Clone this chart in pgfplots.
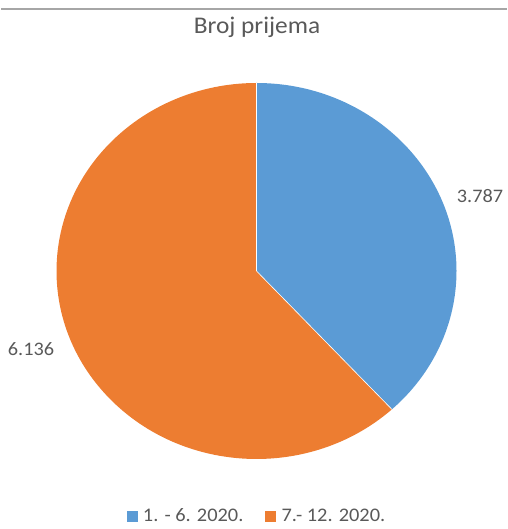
\documentclass[border=0pt]{standalone}
\usepackage{pgfplots}
\pgfplotsset{compat=1.18}
\usepackage{pgfplotstable}
\usepackage{fontspec}
\setmainfont{Carlito}[FakeStretch=1.06]
\definecolor{pieblue}{HTML}{5B9BD5}
\definecolor{pieorange}{HTML}{ED7D31}
\definecolor{txtgrey}{HTML}{595959}
\definecolor{framegrey}{HTML}{A6A6A6}

\pgfplotstableread{
label value
1 3787
2 6136
}\piedata

\begin{document}
\begin{tikzpicture}
\pgfplotstablegetelem{0}{value}\of\piedata \let\va\pgfplotsretval
\pgfplotstablegetelem{1}{value}\of\piedata \let\vb\pgfplotsretval
\pgfmathsetmacro{\angA}{90-360*(\va/(\va+\vb))}
\begin{axis}[
  hide axis, scale only axis,
  width=506bp, height=529bp,
  xmin=0, xmax=506, ymin=0, ymax=529,
  clip=false,
  legend columns=2,
  legend cell align=left,
  legend style={draw=none, fill=none, at={(axis cs:256,13)}, anchor=center,
    font=\fontsize{19.3}{21}\selectfont, text=txtgrey,
    /tikz/every even column/.append style={column sep=20bp}},
  legend image code/.code={\fill[#1] (0bp,-5.2bp) rectangle (10bp,5.2bp);
    \path[draw=none, fill=none] (0bp,0bp) -- (14bp,0bp);},
]
\path (axis cs:0,0) rectangle (axis cs:506,529);
\addlegendimage{pieblue}
\addlegendentry{1. - 6. 2020.}
\addlegendimage{pieorange}
\addlegendentry{7.- 12. 2020.}
\fill[pieblue] (axis cs:255.5,258) -- ++(0bp,188bp)
  arc[start angle=90, end angle=\angA, x radius=200bp, y radius=188bp] -- cycle;
\fill[pieorange] (axis cs:255.5,258) -- ++({200bp*cos(\angA)},{188bp*sin(\angA)})
  arc[start angle=\angA, end angle=-270, x radius=200bp, y radius=188bp] -- cycle;
\draw[white, line width=0.6bp] (axis cs:255.5,258) -- ++(0bp,188bp);
\draw[white, line width=0.6bp] (axis cs:255.5,258) -- ++({200bp*cos(\angA)},{188bp*sin(\angA)});
\draw[framegrey, line width=2bp] (axis cs:0,520) -- (axis cs:506,520);
\node[anchor=base, text=txtgrey, font=\fontsize{24}{26}\selectfont] at (axis cs:256,495) {Broj prijema};
\node[text=txtgrey, font=\fontsize{19.2}{21}\selectfont] at (axis cs:479,333) {3.787};
\node[text=txtgrey, font=\fontsize{19.2}{21}\selectfont] at (axis cs:30,180) {6.136};
\end{axis}
\end{tikzpicture}
\end{document}
